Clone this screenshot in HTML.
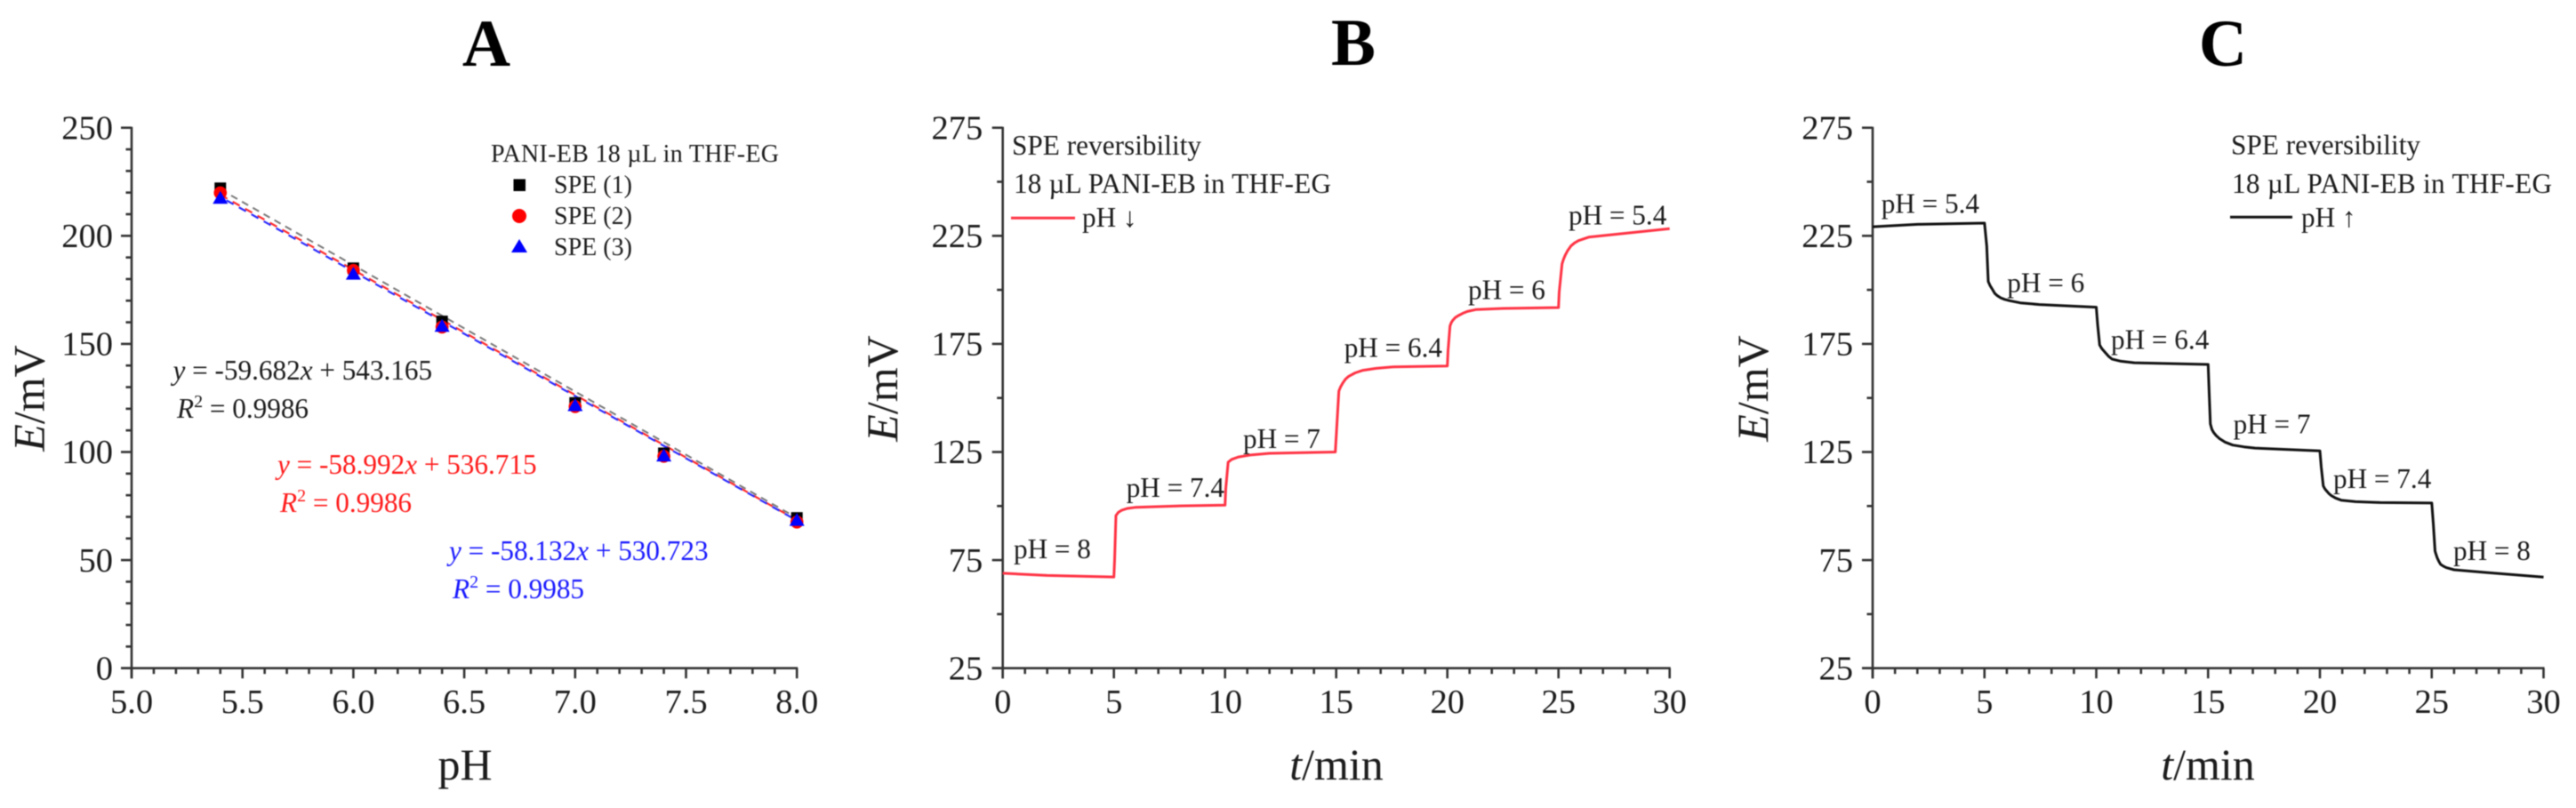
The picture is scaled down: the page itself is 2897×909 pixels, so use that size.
<!DOCTYPE html>
<html lang="en">
<head>
<meta charset="utf-8">
<title>SPE pH calibration and reversibility charts</title>
<style>
html,body{margin:0;padding:0;background:#fff;width:2897px;height:909px;overflow:hidden}
svg{display:block;filter:blur(0.5px)}
text{font-family:"Liberation Serif",serif;fill:#1c1c1c}
.lbl{font-size:31.2px}
.leg{font-size:28px}
.tit{font-size:50px}
.pan{font-size:75px;font-weight:bold;fill:#000}
.it{font-style:italic}
</style>
</head>
<body>
<svg id="chart" xmlns="http://www.w3.org/2000/svg" width="2897" height="909" viewBox="0 0 2897 909">
  <rect width="2897" height="909" fill="#fff"/>

  <text class="pan" x="547" y="74" text-anchor="middle">A</text>
  <text class="pan" x="1522" y="73" text-anchor="middle">B</text>
  <text class="pan" x="2500" y="74" text-anchor="middle">C</text>

  <text class="tit" transform="translate(49.5 448) rotate(-90)" text-anchor="middle"><tspan class="it">E</tspan>/mV</text>
  <text class="tit" transform="translate(1009 437) rotate(-90)" text-anchor="middle"><tspan class="it">E</tspan>/mV</text>
  <text class="tit" transform="translate(1988 437) rotate(-90)" text-anchor="middle"><tspan class="it">E</tspan>/mV</text>

  <text class="tit" x="523" y="877" text-anchor="middle">pH</text>
  <text class="tit" x="1503" y="877" text-anchor="middle"><tspan class="it">t</tspan>/min</text>
  <text class="tit" x="2483" y="877" text-anchor="middle"><tspan class="it">t</tspan>/min</text>

  <g id="panelA"></g>
  <g id="panelB"></g>
  <g id="panelC"></g>

  <text class="leg" x="552" y="182" textLength="324" lengthAdjust="spacing">PANI-EB 18 µL in THF-EG</text>
  <rect x="577.5" y="201.5" width="13.5" height="13.5" fill="#000"/>
  <text class="leg" x="623" y="217">SPE (1)</text>
  <circle cx="584" cy="243" r="8" fill="#ff0000"/>
  <text class="leg" x="623" y="252">SPE (2)</text>
  <polygon points="584,269 593,284 575,284" fill="#0000ff"/>
  <text class="leg" x="623" y="287">SPE (3)</text>

  <text class="lbl" x="194.5" y="427"><tspan class="it">y</tspan> = -59.682<tspan class="it">x</tspan> + 543.165</text>
  <text class="lbl" x="199" y="470"><tspan class="it">R</tspan><tspan dy="-12" font-size="20">2</tspan><tspan dy="12"> = 0.9986</tspan></text>
  <text class="lbl" x="312" y="533" style="fill:#ff1a1a"><tspan class="it">y</tspan> = -58.992<tspan class="it">x</tspan> + 536.715</text>
  <text class="lbl" x="315" y="576" style="fill:#ff1a1a"><tspan class="it">R</tspan><tspan dy="-12" font-size="20">2</tspan><tspan dy="12"> = 0.9986</tspan></text>
  <text class="lbl" x="505" y="630" style="fill:#1a1aff"><tspan class="it">y</tspan> = -58.132<tspan class="it">x</tspan> + 530.723</text>
  <text class="lbl" x="509" y="673" style="fill:#1a1aff"><tspan class="it">R</tspan><tspan dy="-12" font-size="20">2</tspan><tspan dy="12"> = 0.9985</tspan></text>

  <text class="lbl" x="1138" y="174" textLength="213" lengthAdjust="spacing">SPE reversibility</text>
  <text class="lbl" x="1140" y="217" textLength="357" lengthAdjust="spacing">18 µL PANI-EB in THF-EG</text>
  <line x1="1137" y1="245.3" x2="1209" y2="245.3" stroke="#ff3344" stroke-width="3"/>
  <text class="lbl" x="1217" y="255">pH ↓</text>

  <text class="lbl" x="2509" y="173.5" textLength="213" lengthAdjust="spacing">SPE reversibility</text>
  <text class="lbl" x="2510" y="217" textLength="360" lengthAdjust="spacing">18 µL PANI-EB in THF-EG</text>
  <line x1="2508" y1="244.3" x2="2578" y2="244.3" stroke="#111" stroke-width="3"/>
  <text class="lbl" x="2588" y="255">pH ↑</text>

  <text class="lbl" x="1140" y="628">pH = 8</text>
  <text class="lbl" x="1266.7" y="559">pH = 7.4</text>
  <text class="lbl" x="1398" y="504">pH = 7</text>
  <text class="lbl" x="1511.7" y="401.7">pH = 6.4</text>
  <text class="lbl" x="1651" y="336.7">pH = 6</text>
  <text class="lbl" x="1764" y="252.7">pH = 5.4</text>

  <text class="lbl" x="2115.7" y="239.3">pH = 5.4</text>
  <text class="lbl" x="2257.3" y="328.3">pH = 6</text>
  <text class="lbl" x="2374" y="392.7">pH = 6.4</text>
  <text class="lbl" x="2511.6" y="487.3">pH = 7</text>
  <text class="lbl" x="2624" y="549">pH = 7.4</text>
  <text class="lbl" x="2759" y="630">pH = 8</text>
</svg>
<script>
const phCategories = [5.4, 6.0, 6.4, 7.0, 7.4, 8.0];
const spe1Values = [222, 185, 160.4, 122.7, 99.4, 69.5];
const spe2Values = [219.9, 184, 157.8, 121, 98, 67.6];
const spe3Values = [217.5, 182.4, 158.3, 121.6, 98.3, 68.5];
const fitPh = [5.4, 8.0];
const fit1Values = [221.5, 69.5];
const fit2Values = [219, 68.5];
const fit3Values = [218, 68.3];

const timeB = [0, 2, 5, 5.03, 5.09, 5.2, 5.36, 5.6, 5.96, 8, 10, 10.03, 10.14, 10.3, 10.6, 11.2, 12, 14.96, 15, 15.12, 15.2, 15.3, 15.42, 15.56, 15.85, 16.2, 16.8, 17.56, 20, 20.03, 20.12, 20.18, 20.25, 20.36, 20.5, 20.7, 20.9, 21.3, 22.5, 25, 25.03, 25.16, 25.22, 25.3, 25.42, 25.56, 25.72, 25.9, 26.36, 30];
const potentialB = [68.9, 67.9, 67.2, 75, 95.6, 97.1, 98.1, 98.9, 99.4, 100.1, 100.4, 108, 120.3, 121.6, 122.7, 123.7, 124.4, 125, 132, 153.2, 155.2, 157, 158.7, 160, 161.6, 162.8, 163.7, 164.4, 164.8, 172, 183.3, 184.9, 186, 187.2, 188.1, 189.2, 190, 190.9, 191.4, 191.8, 199, 212, 214, 216, 218.3, 220.3, 221.7, 222.8, 224.4, 228.3];

const timeC = [0, 2, 5, 5.1, 5.17, 5.25, 5.34, 5.46, 5.58, 5.73, 5.9, 6.13, 6.6, 7.45, 10, 10.06, 10.15, 10.25, 10.4, 10.55, 10.7, 11.1, 11.7, 15, 15.05, 15.1, 15.17, 15.25, 15.36, 15.5, 15.75, 16.1, 16.6, 17.1, 20, 20.06, 20.15, 20.22, 20.3, 20.4, 20.5, 20.7, 20.95, 21.6, 22.7, 25, 25.07, 25.15, 25.2, 25.25, 25.32, 25.4, 25.52, 25.65, 26, 27.4, 30];
const potentialC = [229.2, 230.3, 230.9, 220.3, 203.9, 202, 200.5, 198.4, 197.3, 196.3, 195.6, 195, 194, 193.2, 192, 184, 174.5, 172.8, 171, 169.3, 168, 167, 166.3, 165.5, 152, 138, 135.5, 134, 132.6, 131.3, 129.6, 128.2, 127.4, 126.8, 125.5, 118, 109.3, 108, 107, 105.8, 104.9, 103.7, 102.7, 102, 101.6, 101.4, 92, 79.1, 77.4, 76, 74.4, 73, 72.2, 71.5, 70.5, 69.3, 67.1];

const xTicksA = [5.0, 5.5, 6.0, 6.5, 7.0, 7.5, 8.0];
const xTickLabelsA = ['5.0', '5.5', '6.0', '6.5', '7.0', '7.5', '8.0'];
const xMinorA = [5.1, 5.2, 5.3, 5.4, 5.6, 5.7, 5.8, 5.9, 6.1, 6.2, 6.3, 6.4, 6.6, 6.7, 6.8, 6.9, 7.1, 7.2, 7.3, 7.4, 7.6, 7.7, 7.8, 7.9];
const yTicksA = [0, 50, 100, 150, 200, 250];
const yTickLabelsA = ['0', '50', '100', '150', '200', '250'];
const yMinorA = [10, 20, 30, 40, 60, 70, 80, 90, 110, 120, 130, 140, 160, 170, 180, 190, 210, 220, 230, 240];

const xTicksT = [0, 5, 10, 15, 20, 25, 30];
const xTickLabelsT = ['0', '5', '10', '15', '20', '25', '30'];
const xMinorT = [1, 2, 3, 4, 6, 7, 8, 9, 11, 12, 13, 14, 16, 17, 18, 19, 21, 22, 23, 24, 26, 27, 28, 29];
const yTicksE = [25, 75, 125, 175, 225, 275];
const yTickLabelsE = ['25', '75', '125', '175', '225', '275'];
const yMinorE = [50, 100, 150, 200, 250];

const NS = 'http://www.w3.org/2000/svg';
function mk(parent, tag, attrs) {
  const el = document.createElementNS(NS, tag);
  for (const k in attrs) el.setAttribute(k, attrs[k]);
  parent.appendChild(el);
  return el;
}

function drawAxes(g, sx, sy, xT, xL, xM, yT, yL, yM, labelGap) {
  const x0 = sx(xT[0]), x1 = sx(xT[xT.length - 1]);
  const y0 = sy(yT[0]), y1 = sy(yT[yT.length - 1]);
  const S = { stroke: '#333', 'stroke-width': 2.6 };
  const yAxis = mk(g, 'line', Object.assign({ x1: x0, y1: y1 - 1, x2: x0, y2: y0 + 11.5 }, S));
  
  
  const xAxis = mk(g, 'line', Object.assign({ x1: x0 - 12, y1: y0, x2: x1 + 1, y2: y0 }, S));
  
  
  xT.forEach(function (v, i) {
    const t = mk(g, 'line', Object.assign({ x1: sx(v), y1: y0, x2: sx(v), y2: y0 + 11.5 }, S));
    
    
    const l = mk(g, 'text', { x: sx(v), y: y0 + 50.5, 'text-anchor': 'middle', 'font-size': 38.5 });
    
    
    l.textContent = xL[i];
  });
  xM.forEach(function (v) {
    const t = mk(g, 'line', Object.assign({ x1: sx(v), y1: y0, x2: sx(v), y2: y0 + 6.5 }, S));
    
    
  });
  yT.forEach(function (v, i) {
    const t = mk(g, 'line', Object.assign({ x1: x0 - 12, y1: sy(v), x2: x0, y2: sy(v) }, S));
    
    
    const l = mk(g, 'text', { x: x0 - labelGap, y: sy(v) + 12.7, 'text-anchor': 'end', 'font-size': 38.5 });
    
    
    l.textContent = yL[i];
  });
  yM.forEach(function (v) {
    const t = mk(g, 'line', Object.assign({ x1: x0 - 6.5, y1: sy(v), x2: x0, y2: sy(v) }, S));
    
    
  });
}

function toPoints(xs, ys, sx, sy) {
  return xs.map(function (v, i) { return sx(v).toFixed(1) + ',' + sy(ys[i]).toFixed(1); }).join(' ');
}

/* Panel A */
const xA = function (v) { return 148 + (v - 5) * 249.4; };
const yA = function (v) { return 751.7 - v * 2.432; };
const gA = document.getElementById('panelA');
drawAxes(gA, xA, yA, xTicksA, xTickLabelsA, xMinorA, yTicksA, yTickLabelsA, yMinorA, 21);

const fit1 = mk(gA, 'polyline', { points: toPoints(fitPh, fit1Values, xA, yA), fill: 'none', stroke: '#777', 'stroke-width': 2, 'stroke-dasharray': '8 6' });


const fit2 = mk(gA, 'polyline', { points: toPoints(fitPh, fit2Values, xA, yA), fill: 'none', stroke: '#ff2a2a', 'stroke-width': 2.2, 'stroke-dasharray': '9 7' });


const fit3 = mk(gA, 'polyline', { points: toPoints(fitPh, fit3Values, xA, yA), fill: 'none', stroke: '#2a2aff', 'stroke-width': 2.2, 'stroke-dasharray': '9 7', 'stroke-dashoffset': 8 });



phCategories.forEach(function (ph, i) {
  const s = mk(gA, 'rect', { x: xA(ph) - 6.5, y: yA(spe1Values[i]) - 6.5, width: 13, height: 13, fill: '#000' });
  
  
});
phCategories.forEach(function (ph, i) {
  const c = mk(gA, 'circle', { cx: xA(ph), cy: yA(spe2Values[i]), r: 7.3, fill: '#ff0000' });
  
  
});
phCategories.forEach(function (ph, i) {
  const px = xA(ph), py = yA(spe3Values[i]);
  const t = mk(gA, 'polygon', { points: (px) + ',' + (py - 8) + ' ' + (px + 8.5) + ',' + (py + 6.5) + ' ' + (px - 8.5) + ',' + (py + 6.5), fill: '#0000ff' });
  
  
});

/* Panel B */
const xB = function (t) { return 1127.7 + t * 25; };
const yE = function (v) { return 751.7 - (v - 25) * 2.432; };
const gB = document.getElementById('panelB');
drawAxes(gB, xB, yE, xTicksT, xTickLabelsT, xMinorT, yTicksE, yTickLabelsE, yMinorE, 22.5);
const lineB = mk(gB, 'polyline', { points: toPoints(timeB, potentialB, xB, yE), fill: 'none', stroke: '#ff3344', 'stroke-width': 3, 'stroke-linejoin': 'round' });



/* Panel C */
const xC = function (t) { return 2106 + t * 25.15; };
const gC = document.getElementById('panelC');
drawAxes(gC, xC, yE, xTicksT, xTickLabelsT, xMinorT, yTicksE, yTickLabelsE, yMinorE, 22);
const lineC = mk(gC, 'polyline', { points: toPoints(timeC, potentialC, xC, yE), fill: 'none', stroke: '#111', 'stroke-width': 3, 'stroke-linejoin': 'round' });


</script>
</body>
</html>
